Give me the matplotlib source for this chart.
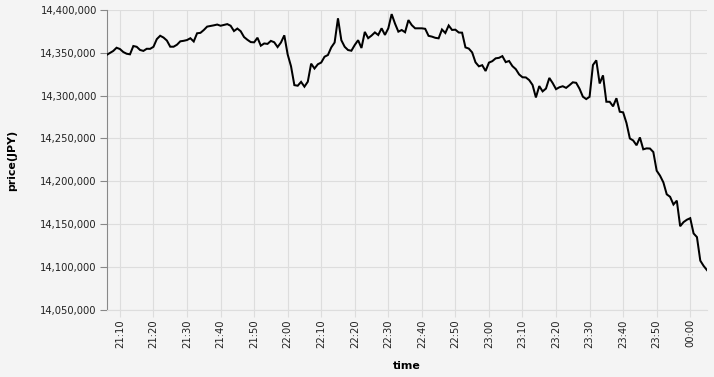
import pandas as pd
import matplotlib.pyplot as plt
import matplotlib.dates as mdates
from matplotlib.ticker import FuncFormatter, MultipleLocator

# one price per minute, 21:06 -> 00:05
start_time = "2021-01-01 21:06"
prices = [
    14347.4, 14349.7, 14352.1, 14355.9, 14354.4, 14350.9, 14348.9, 14348.2, 14357.9, 14357.0,
    14353.3, 14352.2, 14354.7, 14354.6, 14357.0, 14366.0, 14369.9, 14367.8, 14364.3, 14357.1,
    14357.1, 14359.4, 14363.4, 14364.0, 14364.9, 14367.0, 14363.2, 14372.8, 14373.3, 14376.6,
    14380.6, 14381.3, 14382.1, 14383.0, 14381.6, 14382.5, 14383.5, 14381.6, 14375.4, 14378.3,
    14375.2, 14368.4, 14365.2, 14362.5, 14362.2, 14367.6, 14358.3, 14360.9, 14360.4, 14363.9,
    14362.3, 14356.7, 14362.0, 14370.4, 14348.1, 14334.3, 14312.2, 14311.5, 14316.0, 14310.4,
    14316.2, 14337.3, 14331.6, 14336.6, 14338.6, 14345.4, 14347.4, 14356.3, 14362.0, 14390.3,
    14364.7, 14357.0, 14353.2, 14352.4, 14359.1, 14364.7, 14355.6, 14374.4, 14367.1, 14370.1,
    14373.8, 14370.8, 14378.6, 14370.9, 14378.6, 14395.2, 14384.1, 14374.7, 14376.6, 14374.0,
    14388.2, 14382.3, 14378.6, 14378.6, 14378.6, 14378.0, 14369.8, 14368.9, 14367.5, 14366.9,
    14377.2, 14373.1, 14381.9, 14376.7, 14377.0, 14373.7, 14373.5, 14356.3, 14354.9, 14350.4,
    14338.8, 14334.2, 14335.5, 14328.7, 14338.5, 14340.2, 14343.5, 14344.1, 14346.1, 14339.1,
    14340.4, 14334.4, 14330.9, 14324.7, 14321.4, 14321.2, 14318.1, 14312.4, 14297.8, 14311.1,
    14304.9, 14308.2, 14320.6, 14314.6, 14307.5, 14309.7, 14310.9, 14309.0, 14312.1, 14315.5,
    14314.9, 14308.0, 14298.7, 14295.9, 14298.6, 14335.7, 14341.2, 14314.1, 14323.6, 14292.8,
    14292.7, 14287.4, 14296.9, 14281.1, 14280.4, 14267.9, 14249.9, 14247.5, 14241.9, 14251.1,
    14237.2, 14238.3, 14238.1, 14234.0, 14212.2, 14206.4, 14198.5, 14184.6, 14181.7, 14172.7,
    14177.2, 14147.3, 14152.1, 14154.9, 14156.7, 14138.9, 14134.6, 14107.1, 14100.9, 14096.0,
]

df = pd.DataFrame({
    "time": pd.date_range(start_time, periods=len(prices), freq="min"),
    "price": [p * 1000 for p in prices],
})

bg = "#f4f4f4"
W, H = 714, 377
fig = plt.figure(figsize=(W / 100, H / 100), dpi=100, facecolor=bg)
ax = fig.add_axes([106.5 / W, (H - 309.5) / H, (707 - 106.5) / W, (309.5 - 10) / H])
ax.set_facecolor(bg)

ax.plot(df["time"], df["price"], color="black", linewidth=1.45, zorder=3,
        solid_joinstyle="miter")

ax.set_xlim(df["time"].iloc[0], df["time"].iloc[-1])
ax.set_ylim(14_050_000, 14_400_000)
ax.yaxis.set_major_locator(MultipleLocator(50_000))
ax.yaxis.set_major_formatter(FuncFormatter(lambda v, _: f"{v:,.0f}"))
ax.xaxis.set_major_locator(mdates.MinuteLocator(byminute=range(0, 60, 10)))
ax.xaxis.set_major_formatter(mdates.DateFormatter("%H:%M"))

ax.grid(True, color="#dddddd", linewidth=0.8, zorder=0)
ax.set_axisbelow(True)
for s in ["top", "right"]:
    ax.spines[s].set_visible(False)
ax.spines["left"].set_color("#888888")
ax.spines["left"].set_linewidth(0.8)
ax.spines["bottom"].set_color("#dddddd")
ax.spines["bottom"].set_linewidth(0.8)

ax.tick_params(axis="y", length=5, width=0.8, color="#888888", pad=2,
               labelsize=7.2, labelcolor="#222222")
ax.tick_params(axis="x", length=5, width=0.8, color="#dddddd", pad=2,
               labelsize=7.2, labelcolor="#222222", labelrotation=90)

fig.text(12 / W, 1 - 160 / H, "price(JPY)", rotation=90, ha="center", va="center",
         fontsize=7.9, fontweight="bold")
fig.text(407 / W, 1 - 366 / H, "time", ha="center", va="center",
         fontsize=7.9, fontweight="bold")

plt.savefig("out.png", dpi=100, facecolor=bg)
